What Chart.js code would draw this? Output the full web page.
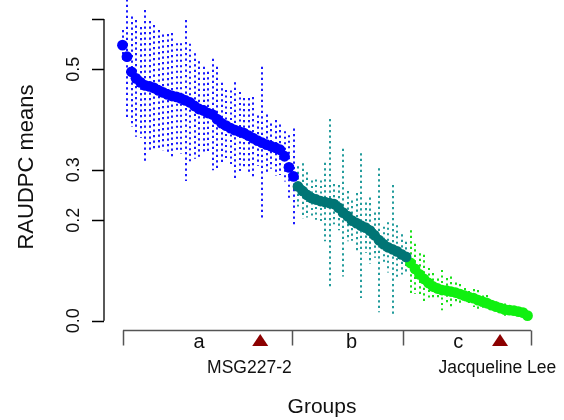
<!DOCTYPE html>
<html>
<head>
<meta charset="utf-8">
<script src="https://cdn.jsdelivr.net/npm/chart.js@4/dist/chart.umd.min.js"></script>
<style>
  html, body { margin: 0; padding: 0; background: #fff; }
  canvas { display: block; }
</style>
</head>
<body>
<canvas id="chart" width="564" height="420"></canvas>
<script>
// group a (blue), b (teal), c (green): sorted means and error half-widths
const meansA = [0.548, 0.525, 0.495, 0.482, 0.474, 0.468, 0.466, 0.463, 0.458, 0.454,
                0.450, 0.447, 0.445, 0.442, 0.438, 0.434, 0.427, 0.421, 0.418, 0.413,
                0.410, 0.401, 0.393, 0.388, 0.383, 0.379, 0.376, 0.373, 0.368, 0.363,
                0.358, 0.354, 0.350, 0.347, 0.344, 0.340, 0.327, 0.305, 0.287];
const errA = [0.03, 0.125, 0.11, 0.116, 0.11, 0.15, 0.13, 0.125, 0.12, 0.115,
              0.12, 0.125, 0.107, 0.11, 0.16, 0.117, 0.105, 0.095, 0.087, 0.082,
              0.111, 0.104, 0.08, 0.071, 0.075, 0.095, 0.079, 0.07, 0.075, 0.082,
              0.05, 0.151, 0.06, 0.045, 0.055, 0.05, 0.05, 0.064, 0.095];
const meansB = [0.267, 0.258, 0.250, 0.244, 0.241, 0.238, 0.236, 0.234, 0.232, 0.225,
                0.215, 0.208, 0.199, 0.194, 0.189, 0.185, 0.179, 0.170, 0.160, 0.152,
                0.146, 0.142, 0.138, 0.132, 0.127];
const errB = [0.04, 0.055, 0.045, 0.035, 0.04, 0.041, 0.078, 0.167, 0.04, 0.045,
              0.127, 0.05, 0.04, 0.06, 0.144, 0.05, 0.066, 0.045, 0.143, 0.035,
              0.05, 0.128, 0.052, 0.04, 0.03];
const meansC = [0.115, 0.103, 0.092, 0.083, 0.075, 0.068, 0.064, 0.061, 0.060, 0.058,
                0.056, 0.053, 0.050, 0.047, 0.045, 0.041, 0.038, 0.035, 0.031, 0.028,
                0.025, 0.022, 0.021, 0.020, 0.018, 0.016, 0.010];
const errC = [0.065, 0.05, 0.042, 0.048, 0.03, 0.027, 0.02, 0.04, 0.025, 0.03,
              0.02, 0.02, 0.015, 0.012, 0.018, 0.02, 0.012, 0.016, 0.01, 0.01,
              0.008, 0.012, 0.006, 0.008, 0.005, 0.005, 0.004];

const yTicks = [0, 0.2, 0.3, 0.5, 0.6];
const yTickLabels = ['0.0', '0.2', '0.3', '0.5', ''];
const groupNames = ['a', 'b', 'c'];
const groupBreaks = [0.1, 37.7, 62.3, 90.8];
const groupLabelPos = [17.0, 50.9, 74.6];
const markedNames = ['MSG227-2', 'Jacqueline Lee'];
const markedPos = [30.6, 83.9];
const markedLabelPos = [28.2, 83.3];

const FONT = '"Liberation Sans", Arial, Helvetica, sans-serif';

function toPoints(means, start) {
    return means.map((m, i) => ({ x: start + i, y: m }));
}

const groups = [
    { means: meansA, errs: errA, start: 0, color: '#0000ff', barColor: '#1a1aff' },
    { means: meansB, errs: errB, start: meansA.length, color: '#007575', barColor: '#229c9c' },
    { means: meansC, errs: errC, start: meansA.length + meansB.length, color: '#10f010', barColor: '#19e019' }
];

// dotted vertical error bars, drawn under the points
const errorBars = {
    id: 'errorBars',
    beforeDatasetsDraw(chart) {
        const { ctx, scales: { x, y } } = chart;
        ctx.save();
        ctx.lineWidth = 2;
        ctx.setLineDash([2.2, 3.3]);
        groups.forEach(g => {
            ctx.strokeStyle = g.barColor;
            g.means.forEach((m, i) => {
                const px = Math.round(x.getPixelForValue(g.start + i));
                ctx.beginPath();
                ctx.moveTo(px, y.getPixelForValue(m + g.errs[i]));
                ctx.lineTo(px, y.getPixelForValue(m - g.errs[i]));
                ctx.stroke();
            });
        });
        ctx.restore();
    }
};

// R-style axes and labels
const axesPlugin = {
    id: 'axesPlugin',
    afterDraw(chart) {
        const { ctx, scales: { x, y } } = chart;
        ctx.save();

        // left axis
        const ax = 104;
        ctx.strokeStyle = '#000';
        ctx.lineWidth = 1.3;
        ctx.beginPath();
        ctx.moveTo(ax, y.getPixelForValue(yTicks[0]));
        ctx.lineTo(ax, y.getPixelForValue(yTicks[yTicks.length - 1]));
        yTicks.forEach(t => {
            const py = Math.round(y.getPixelForValue(t)) + 0.5;
            ctx.moveTo(ax, py);
            ctx.lineTo(ax - 12, py);
        });
        ctx.stroke();

        ctx.fillStyle = '#111';
        ctx.font = '18px ' + FONT;
        ctx.textAlign = 'center';
        ctx.textBaseline = 'middle';
        yTicks.forEach((t, i) => {
            if (!yTickLabels[i]) return;
            ctx.save();
            ctx.translate(74, y.getPixelForValue(t));
            ctx.rotate(-Math.PI / 2);
            ctx.fillText(yTickLabels[i], 0, 0);
            ctx.restore();
        });

        ctx.save();
        ctx.font = '22px ' + FONT;
        ctx.translate(27, 167);
        ctx.rotate(-Math.PI / 2);
        ctx.fillText('RAUDPC means', 0, 0);
        ctx.restore();

        // bottom group axis
        const by = 330.5;
        ctx.strokeStyle = '#555';
        ctx.lineWidth = 1.5;
        ctx.beginPath();
        ctx.moveTo(x.getPixelForValue(groupBreaks[0]), by);
        ctx.lineTo(x.getPixelForValue(groupBreaks[groupBreaks.length - 1]), by);
        groupBreaks.forEach(b => {
            const px = Math.round(x.getPixelForValue(b)) + 0.5;
            ctx.moveTo(px, by);
            ctx.lineTo(px, by + 15);
        });
        ctx.stroke();

        ctx.fillStyle = '#111';
        ctx.textBaseline = 'alphabetic';
        ctx.font = '20px ' + FONT;
        groupNames.forEach((n, i) => {
            ctx.fillText(n, x.getPixelForValue(groupLabelPos[i]), 348);
        });

        ctx.fillStyle = '#8b0000';
        markedPos.forEach(p => {
            const px = x.getPixelForValue(p);
            ctx.beginPath();
            ctx.moveTo(px, 334);
            ctx.lineTo(px + 8, 346);
            ctx.lineTo(px - 8, 346);
            ctx.closePath();
            ctx.fill();
        });

        ctx.fillStyle = '#111';
        ctx.font = '17.5px ' + FONT;
        markedNames.forEach((n, i) => {
            ctx.fillText(n, x.getPixelForValue(markedLabelPos[i]), 373);
        });

        ctx.font = '21px ' + FONT;
        ctx.fillText('Groups', 322, 413);

        ctx.restore();
    }
};

const ctx = document.getElementById('chart').getContext('2d');
new Chart(ctx, {
    type: 'scatter',
    data: {
        datasets: groups.map(g => ({
            data: toPoints(g.means, g.start),
            backgroundColor: g.color,
            borderColor: g.color,
            borderWidth: 0,
            pointRadius: 5.4,
            clip: false
        }))
    },
    options: {
        responsive: false,
        animation: false,
        layout: { padding: { left: 122.5, right: 36.5, top: 19, bottom: 99.3 } },
        plugins: { legend: { display: false }, tooltip: { enabled: false } },
        scales: {
            x: { type: 'linear', min: 0, max: 90, display: false },
            y: { type: 'linear', min: 0, max: 0.6, display: false }
        }
    },
    plugins: [errorBars, axesPlugin]
});
</script>
</body>
</html>
